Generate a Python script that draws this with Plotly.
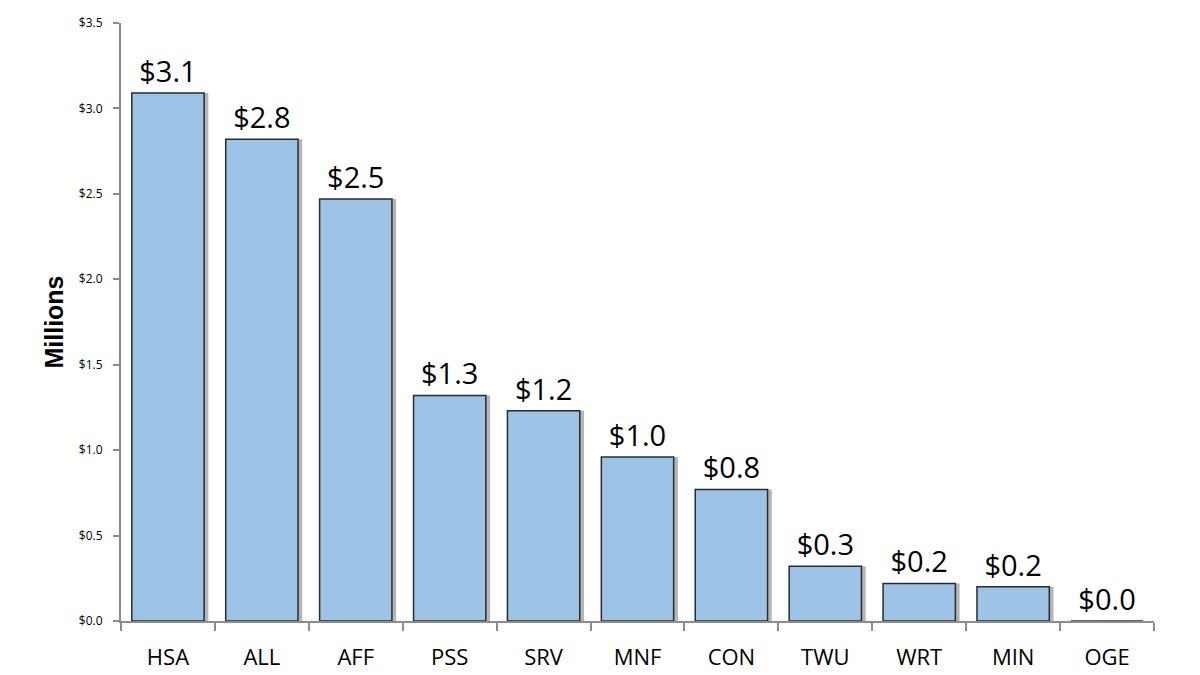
import plotly.graph_objects as go

categories = ["HSA", "ALL", "AFF", "PSS", "SRV", "MNF", "CON", "TWU", "WRT", "MIN", "OGE"]
values = [3.09, 2.82, 2.47, 1.32, 1.23, 0.96, 0.77, 0.32, 0.22, 0.20, 0.0]
y_ticks = [0, 0.5, 1.0, 1.5, 2.0, 2.5, 3.0, 3.5]
y_tick_labels = ["$%.1f" % v for v in y_ticks]

BAR_W = 0.77
SHADOW_SHIFT = 0.045

fig = go.Figure()
# drop shadow
fig.add_trace(go.Bar(
    x=categories, y=values, width=BAR_W, offset=-BAR_W / 2 + SHADOW_SHIFT,
    marker=dict(color="rgba(90,90,90,0.45)", line=dict(width=0)),
    hoverinfo="skip", showlegend=False,
))
fig.add_trace(go.Bar(
    x=categories, y=values, width=BAR_W, offset=-BAR_W / 2,
    marker=dict(color="#9DC3E6", line=dict(color="#2B2B2B", width=1.5)),
    texttemplate="$%{y:.1f}", textposition="outside", cliponaxis=False,
    textfont=dict(size=29, color="#000000", family="Open Sans, Liberation Sans, sans-serif"),
    showlegend=False,
))

fig.update_layout(
    width=1200, height=675,
    margin=dict(l=113, r=54, t=15, b=62, autoexpand=False),
    paper_bgcolor="white", plot_bgcolor="white",
    barmode="overlay",
    font=dict(family="Open Sans, Liberation Sans, sans-serif"),
)
fig.update_xaxes(
    automargin=False,
    showline=True, linecolor="#8C8C8C", linewidth=2,
    ticks="outside", tickson="boundaries", ticklen=8, tickcolor="#8C8C8C", tickwidth=2,
    tickfont=dict(size=22, color="#000000"), ticklabelstandoff=16,
    showgrid=False, range=[-0.5, 10.5],
)
fig.update_yaxes(
    automargin=False,
    range=[0, 3.5], tickmode="array", tickvals=y_ticks, ticktext=y_tick_labels,
    showline=True, linecolor="#8C8C8C", linewidth=2,
    ticks="outside", ticklen=6, tickcolor="#8C8C8C", tickwidth=2,
    tickfont=dict(size=12, color="#000000"), ticklabelstandoff=8,
    showgrid=False, zeroline=False,
    title=dict(text="<b>Millions</b>", font=dict(size=25, color="#000000",
               family="Liberation Sans, Arial, sans-serif"), standoff=8),
)

fig.write_html("out.html")
